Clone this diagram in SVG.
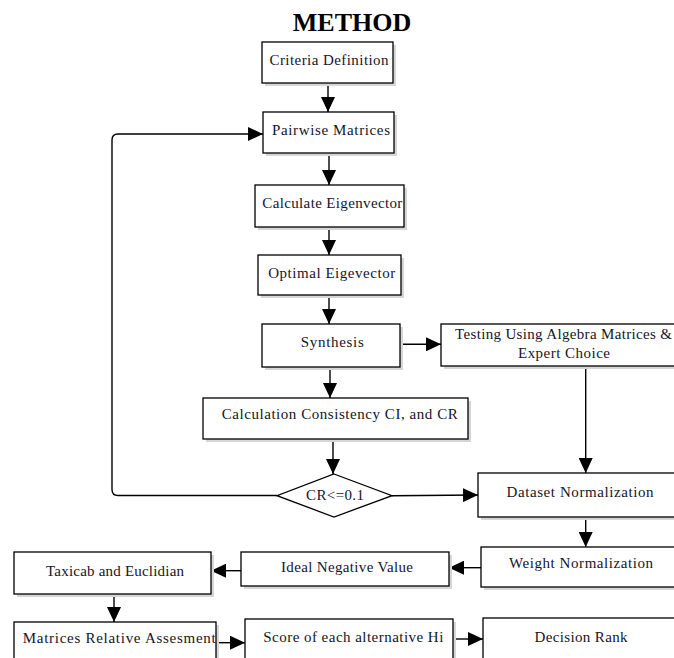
<svg xmlns="http://www.w3.org/2000/svg" width="674" height="658" viewBox="0 0 674 658">
<defs>
<marker id="ah" markerUnits="userSpaceOnUse" markerWidth="15" markerHeight="14" refX="15" refY="7" orient="auto">
<path d="M0,0 L15,7 L0,14 z" fill="#000"/>
</marker>
<style>
.box{fill:#fff;stroke:#000;stroke-width:1.3}
.sh{fill:#d6d6d6;stroke:none}
.t{font-family:"Liberation Serif","Times New Roman",serif;font-size:15px;fill:#15152a}
.c{text-anchor:middle}
.ar{fill:none;stroke:#000;stroke-width:1.4;marker-end:url(#ah)}
</style>
</defs>
<rect width="674" height="658" fill="#fff"/>
<text x="352" y="31" text-anchor="middle" font-family="'Liberation Serif','Times New Roman',serif" font-size="26" font-weight="bold" fill="#000">METHOD</text>

<g id="connectors">
<line class="ar" x1="328" y1="83" x2="328" y2="112"/>
<path class="ar" d="M277,495.5 H118 Q112,495.5 112,489.5 V140 Q112,134 118,134 H263"/>
<line class="ar" x1="329" y1="153" x2="329" y2="185"/>
<line class="ar" x1="329" y1="227" x2="329" y2="255"/>
<line class="ar" x1="329" y1="295" x2="329" y2="324"/>
<line class="ar" x1="400" y1="344.3" x2="441" y2="344.3"/>
<line class="ar" x1="330" y1="367" x2="330" y2="398"/>
<line class="ar" x1="333" y1="439" x2="333" y2="474"/>
<line class="ar" x1="585.7" y1="366" x2="585.7" y2="473"/>
<line class="ar" x1="392" y1="495.7" x2="478" y2="495"/>
<line class="ar" x1="585.7" y1="517" x2="585.7" y2="547"/>
<line class="ar" x1="481" y1="567.7" x2="449" y2="567.7"/>
<line class="ar" x1="241" y1="570.7" x2="211" y2="570.7"/>
<line class="ar" x1="114" y1="594" x2="114" y2="622"/>
<line class="ar" x1="216" y1="642.7" x2="245" y2="642.7"/>
<line class="ar" x1="453" y1="639" x2="483" y2="639"/>
</g>

<g id="n-criteria">
<rect class="sh" x="265" y="45" width="131" height="41"/>
<rect class="box" x="262" y="42" width="131" height="41"/>
<text class="t c" x="329" y="65" textLength="119" lengthAdjust="spacing">Criteria Definition</text>
</g>
<g id="n-pairwise">
<rect class="sh" x="266" y="115" width="131" height="41"/>
<rect class="box" x="263" y="112" width="131" height="41"/>
<text class="t c" x="331" y="135" textLength="118" lengthAdjust="spacing">Pairwise Matrices</text>
</g>
<g id="n-calceig">
<rect class="sh" x="258" y="188" width="149" height="42"/>
<rect class="box" x="255" y="185" width="149" height="42"/>
<text class="t c" x="332.3" y="208" textLength="140" lengthAdjust="spacing">Calculate Eigenvector</text>
</g>
<g id="n-optimal">
<rect class="sh" x="261" y="258" width="143" height="40"/>
<rect class="box" x="258" y="255" width="143" height="40"/>
<text class="t c" x="331.7" y="278" textLength="127" lengthAdjust="spacing">Optimal Eigevector</text>
</g>
<g id="n-synthesis">
<rect class="sh" x="265" y="327" width="138" height="43"/>
<rect class="box" x="262" y="324" width="138" height="43"/>
<text class="t c" x="332.3" y="346.5" textLength="63" lengthAdjust="spacing">Synthesis</text>
</g>
<g id="n-testing">
<rect class="sh" x="444" y="327" width="250" height="42"/>
<rect class="box" x="441" y="324" width="250" height="42"/>
<text class="t" x="455" y="339" textLength="217" lengthAdjust="spacing">Testing Using Algebra Matrices &amp;</text>
<text class="t c" x="564" y="358" textLength="92" lengthAdjust="spacing">Expert Choice</text>
</g>
<g id="n-consistency">
<rect class="sh" x="206" y="401" width="265" height="41"/>
<rect class="box" x="203" y="398" width="265" height="41"/>
<text class="t c" x="339.7" y="419.3" textLength="236" lengthAdjust="spacing">Calculation Consistency CI, and CR</text>
</g>
<g id="n-decision">
<polygon points="334,474 392,495.7 334,517 277,495.7" fill="#fff" stroke="#000" stroke-width="1.3"/>
<text class="t c" x="335" y="500" textLength="58" lengthAdjust="spacing">CR&lt;=0.1</text>
</g>
<g id="n-dataset">
<rect class="sh" x="481" y="476" width="220" height="44"/>
<rect class="box" x="478" y="473" width="220" height="44"/>
<text class="t c" x="580" y="497" textLength="147" lengthAdjust="spacing">Dataset Normalization</text>
</g>
<g id="n-weight">
<rect class="sh" x="484" y="550" width="220" height="40"/>
<rect class="box" x="481" y="547" width="220" height="40"/>
<text class="t c" x="581" y="568" textLength="144" lengthAdjust="spacing">Weight Normalization</text>
</g>
<g id="n-ideal">
<rect class="sh" x="244" y="555" width="208" height="34"/>
<rect class="box" x="241" y="552" width="208" height="34"/>
<text class="t c" x="347" y="572" textLength="132" lengthAdjust="spacing">Ideal Negative Value</text>
</g>
<g id="n-taxicab">
<rect class="sh" x="17" y="555" width="197" height="42"/>
<rect class="box" x="14" y="552" width="197" height="42"/>
<text class="t c" x="115" y="575.5" textLength="138" lengthAdjust="spacing">Taxicab and Euclidian</text>
</g>
<g id="n-matrices">
<rect class="sh" x="17" y="625" width="202" height="50"/>
<rect class="box" x="14" y="622" width="202" height="50"/>
<text class="t" x="22.7" y="643" textLength="193" lengthAdjust="spacing">Matrices Relative Assesment</text>
</g>
<g id="n-score">
<rect class="sh" x="248" y="622" width="208" height="50"/>
<rect class="box" x="245" y="619" width="208" height="50"/>
<text class="t c" x="353.3" y="642" textLength="180" lengthAdjust="spacing">Score of each alternative Hi</text>
</g>
<g id="n-rank">
<rect class="sh" x="486" y="621" width="220" height="50"/>
<rect class="box" x="483" y="618" width="220" height="50"/>
<text class="t c" x="581" y="641.5" textLength="93" lengthAdjust="spacing">Decision Rank</text>
</g>
</svg>
